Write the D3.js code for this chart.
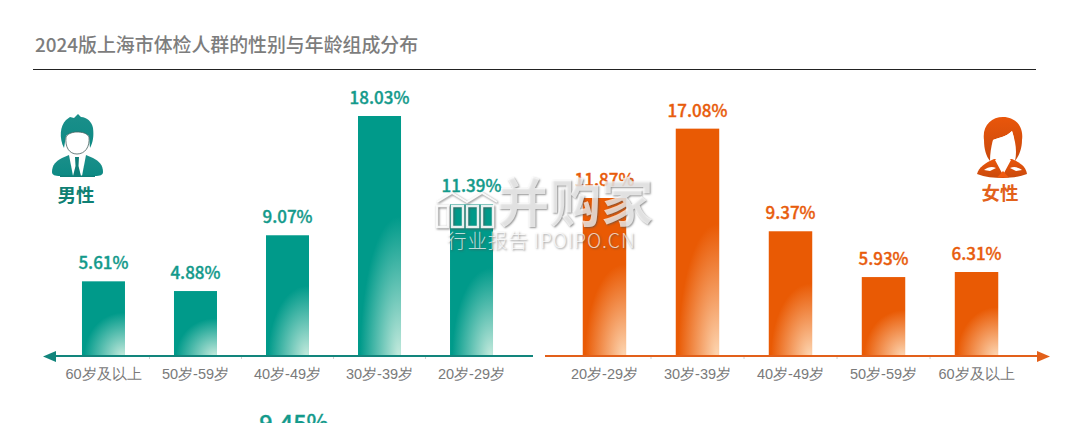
<!DOCTYPE html>
<html>
<head>
<meta charset="utf-8" />
<title>2024版上海市体检人群的性别与年龄组成分布</title>
<style>
html, body {
    margin: 0;
    padding: 0;
    background: #fff;
}
svg {
    display: block;
    font-family: "Noto Sans CJK SC", "Noto Sans", sans-serif;
}
.tick text {
    font-size: 14.5px;
    fill: #7a7a7a;
    font-weight: 300;
}
.val {
    font-size: 17px;
    font-weight: 500;
    text-anchor: middle;
    stroke-width: 0.35px;
}
.wm {
    fill: rgba(255, 255, 255, 0.72);
    text-shadow: 1px 1px 2px rgba(80, 80, 80, 0.85);
}
</style>
</head>
<body>
<svg id="chart" width="1086" height="423"></svg>
<script src="https://cdnjs.cloudflare.com/ajax/libs/d3/7.8.5/d3.min.js"></script>
<script>
var titleText = "2024版上海市体检人群的性别与年龄组成分布"

var maleAges = ["60岁及以上", "50岁-59岁", "40岁-49岁", "30岁-39岁", "20岁-29岁"]
var maleValues = [5.61, 4.88, 9.07, 18.03, 11.39]

var femaleAges = ["20岁-29岁", "30岁-39岁", "40岁-49岁", "50岁-59岁", "60岁及以上"]
var femaleValues = [11.87, 17.08, 9.37, 5.93, 6.31]

// only the top of this one shows, it belongs to the next panel down
var cutOffValue = 9.45

var svg = d3.select("#chart")
var defs = svg.append("defs")

var baseY = 356
var y = d3.scaleLinear().domain([0, 18.03]).range([baseY, 116])

function addGlow(id, base, light) {
    var g = defs.append("radialGradient").attr("id", id)
        .attr("cx", 0.95).attr("cy", 1).attr("r", 1)
        .attr("gradientTransform", "translate(0.95 1) scale(0.9 0.58) translate(-0.95 -1)")
    g.append("stop").attr("offset", "0%").attr("stop-color", light)
    g.append("stop").attr("offset", "100%").attr("stop-color", base)
}
addGlow("tealGlow", "#009a8a", "#c4eadd")
addGlow("orangeGlow", "#e95a04", "#fdd6b2")

function addIconFill(id, top, bottom) {
    var g = defs.append("linearGradient").attr("id", id)
        .attr("x1", 0).attr("y1", 0).attr("x2", 0).attr("y2", 1)
    g.append("stop").attr("offset", "0%").attr("stop-color", top)
    g.append("stop").attr("offset", "100%").attr("stop-color", bottom)
}
addIconFill("manFill", "#1b8f8a", "#0d8a84")
addIconFill("womanFill", "#e9560b", "#c9490c")

// title
svg.append("text").attr("x", 35).attr("y", 52)
    .style("font-size", "18.9px").style("font-weight", 500).attr("fill", "#7d7d7d")
    .text(titleText)
svg.append("rect").attr("x", 33).attr("width", 1003).attr("y", 69).attr("height", 1)
    .attr("fill", "#222")

function drawSide(ages, values, range, fillId, textColor, lineColor, lineFrom, lineTo, arrow) {
    var x = d3.scaleBand().domain(ages).range(range).paddingInner(0.5326).paddingOuter(0.266)
    var g = svg.append("g")

    g.selectAll("rect").data(values).enter().append("rect")
        .attr("x", function(d, i) { return x(ages[i]) })
        .attr("y", function(d) { return y(d) })
        .attr("width", x.bandwidth())
        .attr("height", function(d) { return baseY - y(d) })
        .attr("fill", "url(#" + fillId + ")")

    g.selectAll(".val").data(values).enter().append("text")
        .attr("class", "val")
        .attr("x", function(d, i) { return x(ages[i]) + x.bandwidth() / 2 })
        .attr("y", function(d) { return y(d) - 12 })
        .attr("fill", textColor)
        .attr("stroke", textColor)
        .text(function(d) { return d3.format(".2f")(d) + "%" })

    // small ticks sit between the categories
    g.selectAll(".minor").data(ages.slice(1)).enter().append("line")
        .attr("class", "minor")
        .attr("x1", function(d) { return x(d) - x.step() * 0.266 })
        .attr("x2", function(d) { return x(d) - x.step() * 0.266 })
        .attr("y1", baseY).attr("y2", baseY + 3)
        .attr("stroke", "#cfcfcf")

    var axis = d3.axisBottom(x).tickSize(0).tickPadding(13)
    g.append("g").attr("transform", "translate(0," + baseY + ")").call(axis)
        .call(function(s) { s.select(".domain").remove() })

    g.append("line").attr("x1", lineFrom).attr("x2", lineTo).attr("y1", baseY).attr("y2", baseY)
        .attr("stroke", lineColor).attr("stroke-width", 2)
    g.append("path").attr("fill", lineColor)
        .attr("d", d3.line()(arrow))
}

drawSide(maleAges, maleValues, [57.5, 517.5], "tealGlow", "#139a8b", "#12857c", 52, 533,
    [[43, 356.5], [56, 351], [56, 362]])
drawSide(femaleAges, femaleValues, [558, 1023], "orangeGlow", "#e85c0c", "#e2601a", 545, 1040,
    [[1050, 356.5], [1037, 351], [1037, 362]])

svg.append("text").attr("class", "val").attr("x", 294).attr("y", 432)
    .style("font-size", "23.5px").attr("fill", "#139a8b").attr("stroke", "#139a8b")
    .text(cutOffValue.toFixed(2) + "%")

// man icon
var man = svg.append("g")
man.append("path").attr("fill", "url(#manFill)")
    .attr("d", "M52 172 C52 165 56 161 62 158 L69 155 L73 176 L60 176 C55 176 52 175 52 172Z")
man.append("path").attr("fill", "url(#manFill)")
    .attr("d", "M103 172 C103 165 99 161 93 158 L86 155 L82 176 L95 176 C100 176 103 175 103 172Z")
man.append("path").attr("fill", "#0f7f79")
    .attr("d", "M73 176 L75.5 166 L75 157 L79 157 L78.5 166 L81 176 Z M60 175.5 H95 V177 H60 Z")
man.append("path").attr("fill", "url(#manFill)")
    .attr("d", "M64 148 C59 138 60 126 66 120 L70 117 L74 118 L78 114 L81 117 C87 117 92 122 93 128 C94 136 93 142 90 148 L89 136 C82 132 72 131 66 136 Z")
man.append("path").attr("fill", "#fff").attr("stroke", "#45605e").attr("stroke-width", 0.8)
    .attr("d", "M66 137 C68 133 74 132 77 132 C82 132 87 133 89 137 C90 147 85 154 77 154 C69 154 65 147 66 137Z")

// woman icon
var woman = svg.append("g")
woman.append("path").attr("fill", "url(#womanFill)")
    .attr("d", "M977 174 C979 167 985 163 994 159 L1012 159 C1021 163 1026 167 1027 174 C1019 177 1011 178 1003 178 C994 178 985 177 977 174Z")
woman.append("path").attr("fill", "#fff")
    .attr("d", "M995 160 L1002 173 L1004 173 L1011 160 L1007 157 H999 Z M984 170 C988 167 992 166 996 168 L990 171 Z M1022 170 C1018 167 1014 166 1010 168 L1016 171 Z")
woman.append("path").attr("fill", "#f05a10").attr("d", "M997 177.5 L1003 171 L1009 177.5 Z")
woman.append("path").attr("fill", "url(#womanFill)")
    .attr("d", "M990 161 C986 156 984 149 984 140 C982 126 991 117 1003 117 C1015 117 1024 126 1022 140 C1022 149 1019 156 1015 161 C1017 152 1016 143 1012 131 C1006 137 998 138 993 140 C991 147 990 154 990 161Z")
woman.append("path").attr("fill", "#fff")
    .attr("d", "M993 140 C998 138 1006 137 1012 131 C1015 139 1015 147 1010 153 C1006 157 999 157 996 153 C993 149 992 145 993 140Z")

svg.append("text").attr("x", 76).attr("y", 202).attr("text-anchor", "middle")
    .style("font-size", "18.5px").style("font-weight", 700).attr("fill", "#0f8074").text("男性")
svg.append("text").attr("x", 1000).attr("y", 200).attr("text-anchor", "middle")
    .style("font-size", "18.5px").style("font-weight", 700).attr("fill", "#e2621b").text("女性")

// watermark over everything
var wm = svg.append("g")
var logoRows = d3.range(4)
wm.selectAll(".box").data(logoRows).enter().append("rect")
    .attr("class", "box")
    .attr("x", function(d) { return 437 + d * 15 })
    .attr("y", 206).attr("width", 11).attr("height", 21)
    .attr("fill", "none").attr("stroke", "rgba(255,255,255,0.9)").attr("stroke-width", 2.5)
    .style("filter", "drop-shadow(1px 1px 1px rgba(80,80,80,0.8))")
wm.append("path").attr("fill", "none").attr("stroke", "rgba(255,255,255,0.9)").attr("stroke-width", 2)
    .style("filter", "drop-shadow(1px 1px 1px rgba(80,80,80,0.8))")
    .attr("d", "M437 202 L452 193 L467 202 L482 193 L497 202")
wm.append("text").attr("class", "wm").attr("x", 497).attr("y", 222)
    .style("font-size", "52px").style("font-weight", 700).text("并购家")
wm.append("text").attr("class", "wm").attr("x", 447).attr("y", 248)
    .style("font-size", "19.5px").style("font-weight", 300).style("letter-spacing", "0.9px").text("行业报告 IPOIPO.CN")
</script>
</body>
</html>
